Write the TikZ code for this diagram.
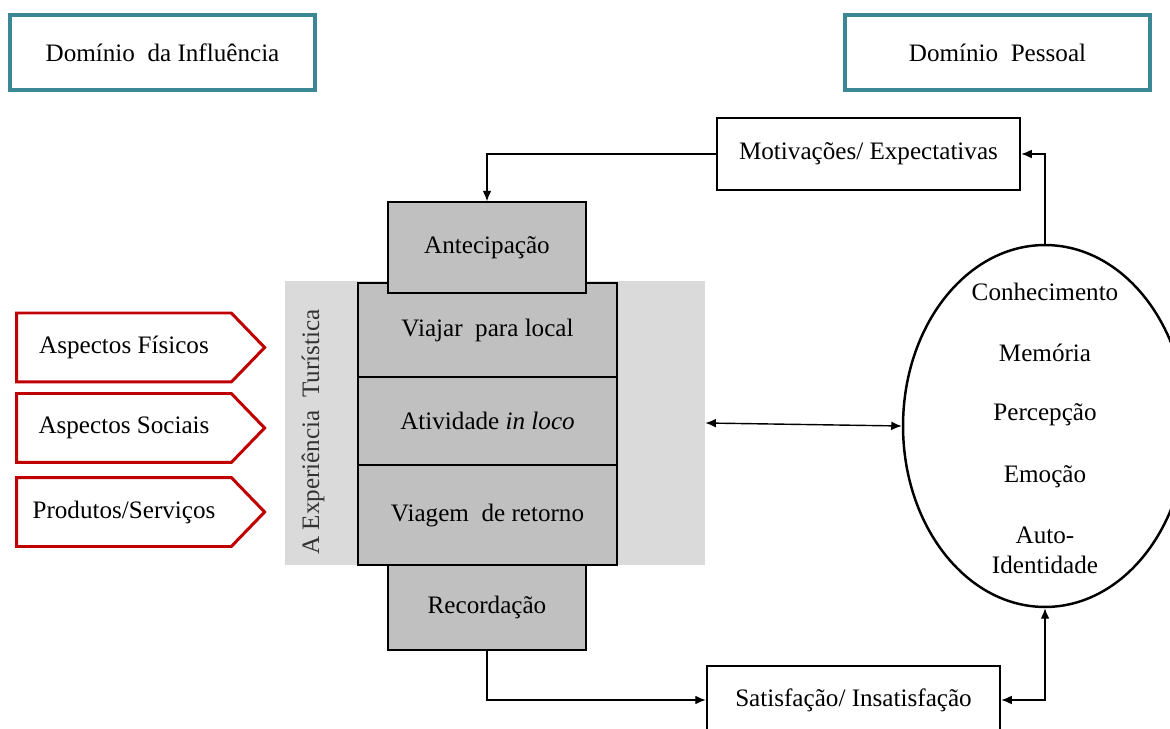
\documentclass[tikz,border=0pt]{standalone}
\usepackage{fontspec}
\setmainfont{Liberation Serif}
\usepackage{tikz}
\usetikzlibrary{positioning,arrows.meta,shapes.geometric,shapes.symbols}
\definecolor{tealbox}{RGB}{60,135,150}
\definecolor{redbox}{RGB}{192,0,0}
\definecolor{grayfill}{RGB}{192,192,192}
\definecolor{graybg}{RGB}{218,218,218}

\begin{document}
\begin{tikzpicture}[x=0.02cm, y=-0.02cm, >={Latex[length=6pt,width=5pt]}, font=\fontsize{14.3}{17}\selectfont,
	domainnode/.style={rectangle, draw=tealbox, line width=2pt, minimum width=6.1cm, minimum height=1.5cm},
	stagenode/.style={rectangle, draw, fill=grayfill, line width=0.8pt, minimum width=5.18cm},
	endnode/.style={rectangle, draw, fill=grayfill, line width=0.8pt, minimum width=3.96cm},
	outcomenode/.style={rectangle, draw, fill=white, line width=1.4pt},
	aspectnode/.style={signal, signal to=east, signal pointer angle=92, draw=redbox, fill=white, line width=1.7pt, minimum width=4.96cm, minimum height=1.38cm},
	flow/.style={->, line width=0.8pt}]
		\useasboundingbox (0,0) rectangle (1170,729);
		\node[domainnode] (dinf) at (162.5, 52.5) {Domínio\ \ da Influência};
		\node[domainnode] (dpes) at (997.5, 52.5) {Domínio\ \ Pessoal};
		\node[outcomenode, minimum width=6.06cm, minimum height=1.44cm] (mot) at (868.5, 154) {Motivações/ Expectativas};
		\node[outcomenode, minimum width=5.86cm, minimum height=1.36cm] (sat) at (853.5, 700) {Satisfação/ Insatisfação};
		% experiencia turistica
		\node[rectangle, fill=graybg, minimum width=8.4cm, minimum height=5.68cm] (exp) at (495, 423) {};
		\node[rotate=90, text=black!80] (expl) at (313, 432) {A Experiência\ \ Turística};
		\node[stagenode, minimum height=1.88cm] (via) at (487.5, 330) {Viajar\ \ para local};
		\node[stagenode, minimum height=1.76cm] (ati) at (487.5, 421) {Atividade \textit{in loco}};
		\node[stagenode, minimum height=2cm] (vret) at (487.5, 515) {Viagem\ \ de retorno};
		\node[endnode, minimum height=1.82cm] (ant) at (487, 247.5) {Antecipação};
		\node[endnode, minimum height=1.7cm] (rec) at (487, 607.5) {Recordação};
		% aspectos
		\node[aspectnode] (fis) at (124, 347.5) {Aspectos Físicos};
		\node[aspectnode] (soc) at (124, 428) {Aspectos Sociais};
		\node[aspectnode] (prod) at (124, 512) {Produtos/Serviços};
		% dominio pessoal
		\node[ellipse, draw, line width=1.4pt, minimum width=5.68cm, minimum height=7.24cm] (pes) at (1045, 426) {};
		\node (con) at (1045, 292) {Conhecimento};
		\node (mem) at (1045, 353) {Memória};
		\node (per) at (1045, 415) {Percepção};
		\node (emo) at (1045, 477) {Emoção};
		\node[align=center] (aid) at (1045, 550) {Auto-\\Identidade};
		\draw[flow] (mot.west) -| (ant.north);
		\draw[flow] (pes.north) |- (mot.east);
		\draw[flow] (rec.south) |- (sat.west);
		\draw[flow, <->] (sat.east) -| (pes.south);
		\draw[flow, <->] (exp.east) -- (pes.west);
		
	\end{tikzpicture}
\end{document}
